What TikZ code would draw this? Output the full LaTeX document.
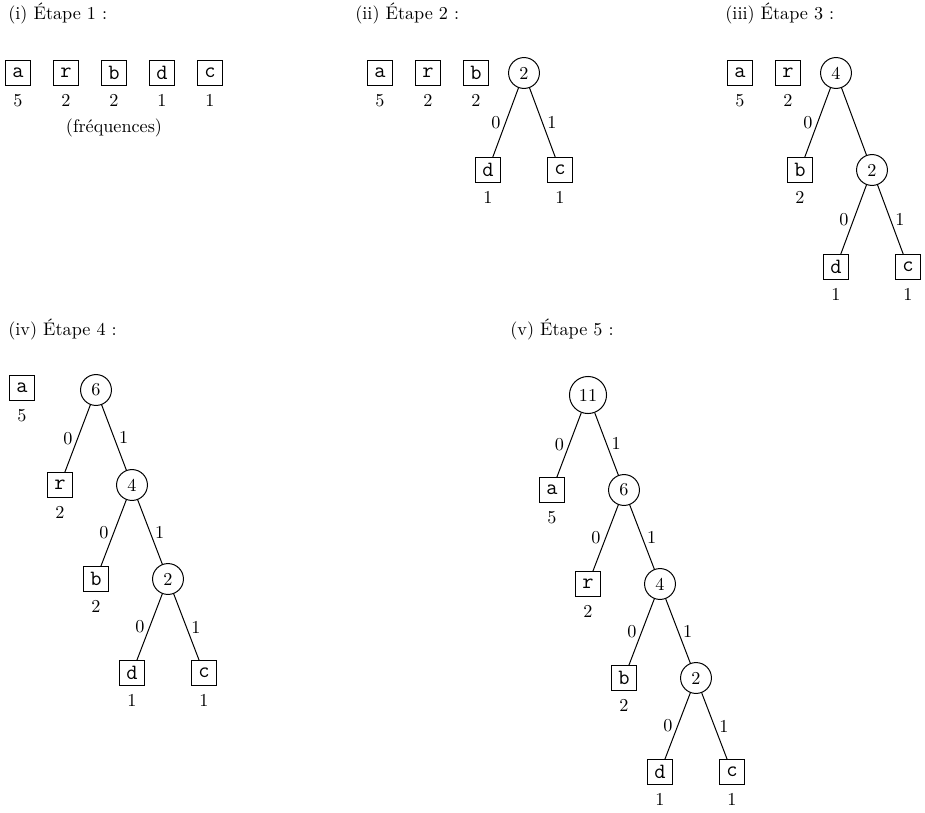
\documentclass[tikz,border=0pt]{standalone}
\usepackage{tikz}
\usetikzlibrary{positioning}

\begin{document}
\begin{tikzpicture}[
  x=0.55pt, y=-0.55pt, font=\normalsize, node distance=3.5pt,
  leaf/.style={draw, line width=0.55pt, rectangle, font=\large\ttfamily, minimum size=13.5pt, inner sep=1pt},
  sum/.style={draw, line width=0.55pt, circle, minimum size=17pt, inner sep=3pt},
  freq/.style={inner sep=1pt},
  bit/.style={inner sep=2.5pt},
  title/.style={anchor=west, inner sep=0pt},
  edge/.style={line width=0.55pt}]
  \useasboundingbox (0,0) rectangle (925,813);
  % (i) the five letters, with their frequencies
  \node[title] (ti) at (8,14) {(i) Étape 1 :};
  \node[leaf] (ia) at (18,73)  {a}; \node[freq, below=of ia] (iaf) {5};
  \node[leaf] (ir) at (66,73)  {r}; \node[freq, below=of ir] (irf) {2};
  \node[leaf] (ib) at (114,73) {b}; \node[freq, below=of ib] (ibf) {2};
  \node[leaf] (id) at (162,73) {d}; \node[freq, below=of id] (idf) {1};
  \node[leaf] (ic) at (210,73) {c}; \node[freq, below=of ic] (icf) {1};
  \node (inote) at (114,128) {(fréquences)};
  % (ii) d + c
  \node[title] (tii) at (355,14) {(ii) Étape 2 :};
  \node[leaf] (iia) at (380,73) {a}; \node[freq, below=of iia] (iiaf) {5};
  \node[leaf] (iir) at (428,73) {r}; \node[freq, below=of iir] (iirf) {2};
  \node[leaf] (iib) at (476,73) {b}; \node[freq, below=of iib] (iibf) {2};
  \node[sum]  (iis2) at (524,73) {2};
  \node[leaf] (iid) at (488,170) {d}; \node[freq, below=of iid] (iidf) {1};
  \node[leaf] (iic) at (560,170) {c}; \node[freq, below=of iic] (iicf) {1};
  \draw[edge] (iis2) -- node[bit, left]{0} (iid); \draw[edge] (iis2) -- node[bit, right]{1} (iic);
  % (iii) b + (d,c)
  \node[title] (tiii) at (725,14) {(iii) Étape 3 :};
  \node[leaf] (iiia) at (740,73) {a}; \node[freq, below=of iiia] (iiiaf) {5};
  \node[leaf] (iiir) at (788,73) {r}; \node[freq, below=of iiir] (iiirf) {2};
  \node[sum]  (iiis4) at (836,73) {4};
  \node[leaf] (iiib) at (800,170) {b}; \node[freq, below=of iiib] (iiibf) {2};
  \node[sum]  (iiis2) at (872,170) {2};
  \node[leaf] (iiid) at (836,267) {d}; \node[freq, below=of iiid] (iiidf) {1};
  \node[leaf] (iiic) at (908,267) {c}; \node[freq, below=of iiic] (iiicf) {1};
  \draw[edge] (iiis4) -- node[bit, left]{0} (iiib); \draw[edge] (iiis4) -- (iiis2);
  \draw[edge] (iiis2) -- node[bit, left]{0} (iiid); \draw[edge] (iiis2) -- node[bit, right]{1} (iiic);
  % (iv) r + (b,(d,c))
  \node[title] (tiv) at (8,330) {(iv) Étape 4 :};
  \node[leaf] (iva) at (22,388) {a}; \node[freq, below=of iva] (ivaf) {5};
  \node[sum]  (ivs6) at (96,390) {6};
  \node[leaf] (ivr) at (60,485) {r}; \node[freq, below=of ivr] (ivrf) {2};
  \node[sum]  (ivs4) at (132,485) {4};
  \node[leaf] (ivb) at (96,579) {b}; \node[freq, below=of ivb] (ivbf) {2};
  \node[sum]  (ivs2) at (168,579) {2};
  \node[leaf] (ivd) at (132,673) {d}; \node[freq, below=of ivd] (ivdf) {1};
  \node[leaf] (ivc) at (204,673) {c}; \node[freq, below=of ivc] (ivcf) {1};
  \draw[edge] (ivs6) -- node[bit, left]{0} (ivr); \draw[edge] (ivs6) -- node[bit, right]{1} (ivs4);
  \draw[edge] (ivs4) -- node[bit, left]{0} (ivb); \draw[edge] (ivs4) -- node[bit, right]{1} (ivs2);
  \draw[edge] (ivs2) -- node[bit, left]{0} (ivd); \draw[edge] (ivs2) -- node[bit, right]{1} (ivc);
  % (v) the whole tree
  \node[title] (tv) at (510,330) {(v) Étape 5 :};
  \node[sum]  (vs11) at (588,395) {11};
  \node[leaf] (va) at (552,490) {a}; \node[freq, below=of va] (vaf) {5};
  \node[sum]  (vs6) at (624,490) {6};
  \node[leaf] (vr) at (588,584) {r}; \node[freq, below=of vr] (vrf) {2};
  \node[sum]  (vs4) at (660,584) {4};
  \node[leaf] (vb) at (624,678) {b}; \node[freq, below=of vb] (vbf) {2};
  \node[sum]  (vs2) at (696,678) {2};
  \node[leaf] (vd) at (660,772) {d}; \node[freq, below=of vd] (vdf) {1};
  \node[leaf] (vc) at (732,772) {c}; \node[freq, below=of vc] (vcf) {1};
  \draw[edge] (vs11) -- node[bit, left]{0} (va); \draw[edge] (vs11) -- node[bit, right]{1} (vs6);
  \draw[edge] (vs6) -- node[bit, left]{0} (vr); \draw[edge] (vs6) -- node[bit, right]{1} (vs4);
  \draw[edge] (vs4) -- node[bit, left]{0} (vb); \draw[edge] (vs4) -- node[bit, right]{1} (vs2);
  \draw[edge] (vs2) -- node[bit, left]{0} (vd); \draw[edge] (vs2) -- node[bit, right]{1} (vc);
\end{tikzpicture}
\end{document}
